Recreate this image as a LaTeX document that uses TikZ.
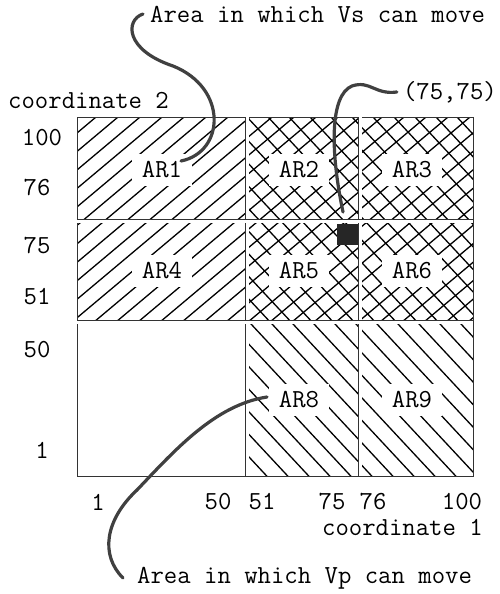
\documentclass[tikz,border=0pt]{standalone}
\usepackage{fontspec}
\usetikzlibrary{positioning}

\begin{document}
\begin{tikzpicture}[x=1pt, y=-1pt,
  every node/.style={font=\ttfamily\fontsize{26}{28}\selectfont, inner sep=0pt},
  arlabel/.style={fill=white, inner xsep=10pt, inner ysep=8pt},
  hatch/.style={line width=1.3pt},
  gridline/.style={line width=0.7pt, black!80},
  dblline/.style={gridline, double=white, double distance=3pt},
  leader/.style={line width=3.2pt, black!75, line cap=round}]

\useasboundingbox (0,0) rectangle (500,594);

% Vs hatching (coordinate 2 from 51 to 100)
\begin{scope}
\clip (77,117) rectangle (473,322);
\foreach \i in {-170,-148,...,480}
  \draw[hatch] (\i,322) -- ++(300,-252);
\end{scope}
% Vp hatching (coordinate 1 from 51 to 100)
\begin{scope}
\clip (247,117) rectangle (473,476);
\foreach \i in {-110,-89,...,480}
  \draw[hatch] (\i,117) -- ++(400,429);
\end{scope}

% area labels
\node[arlabel] (ar1) at (162,170) {AR1};
\node[arlabel] (ar2) at (299,170) {AR2};
\node[arlabel] (ar3) at (412,170) {AR3};
\node[arlabel] (ar4) at (162,271) {AR4};
\node[arlabel] (ar5) at (299,271) {AR5};
\node[arlabel] (ar6) at (412,271) {AR6};
\node[arlabel] (ar8) at (299,400) {AR8};
\node[arlabel] (ar9) at (412,400) {AR9};

% grid
\draw[gridline] (77,117) rectangle (473,476);
\draw[dblline] (247,117) -- (247,476);
\draw[dblline] (360,117) -- (360,476);
\draw[dblline] (77,221) -- (473,221);
\draw[dblline] (77,322) -- (473,322);

\node[fill=black!85, minimum width=21pt, minimum height=21pt] (pt75) at (347.5,234.5) {};

% coordinate 2
\node[anchor=west] (c2) at (8,100) {coordinate 2};
\node (y100) at (42,138) {100};
\node (y76) at (37,188) {76};
\node (y75) at (37,246) {75};
\node (y51) at (37,297) {51};
\node (y50) at (37,350) {50};
\node (y1) at (42,450) {1};

% coordinate 1
\node (x1) at (98,502) {1};
\node (x50) at (218,502) {50};
\node (x51) at (262,502) {51};
\node (x75) at (332,502) {75};
\node (x76) at (373,502) {76};
\node (x100) at (462,502) {100};
\node[anchor=east] (c1) at (483,527) {coordinate 1};

% leaders
\node[anchor=west] (vstext) at (150,14) {Area in which Vs can move};
\node[anchor=east] (p75) at (497,92) {(75,75)};
\node[anchor=west] (vptext) at (137,578) {Area in which Vp can move};
\coordinate (vsend) at (181,161);
\coordinate (ptend) at (343,212);
\coordinate (vpend) at (267,397);

\draw[leader] ([xshift=-7pt]vstext.west) .. controls (125,20) and (125,50) .. (173,66)
  .. controls (228,88) and (225,152) .. (vsend);
\draw[leader] ([xshift=-6pt]p75.west) .. controls (375,95) and (370,80) .. (352,86)
  .. controls (330,95) and (330,150) .. (ptend);
\draw[leader] ([xshift=-14pt]vptext.west) .. controls (100,555) and (105,520) .. (137,490)
  .. controls (175,450) and (215,405) .. (vpend);
\end{tikzpicture}
\end{document}
